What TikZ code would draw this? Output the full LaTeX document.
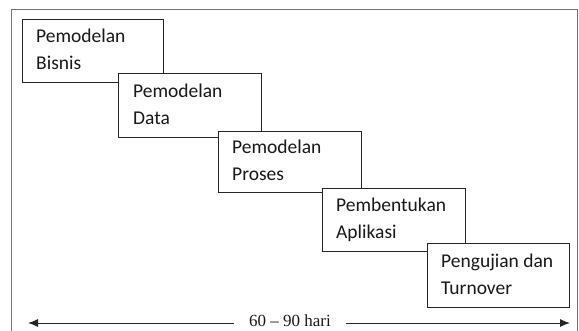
\documentclass[tikz,border=0pt]{standalone}
\usepackage{fontspec}
\setmainfont{Carlito}
\newfontfamily\serifnum{Liberation Serif}
\usetikzlibrary{arrows.meta}
\tikzset{
  stagebox/.style={draw=black!85, line width=1.1pt, fill=white, rectangle, inner sep=0pt,
    minimum width=141pt, minimum height=63pt, anchor=north west},
  stagelab/.style={inner sep=0pt, anchor=west, align=left, text=black!90,
    font=\fontsize{19.5}{27}\selectfont},
  frameline/.style={draw=black!55, line width=1pt},
  spanarrow/.style={line width=1pt, draw=black!85, -{Latex[length=10pt,width=8pt]}}
}
\begin{document}
\begin{tikzpicture}[x=1pt,y=-1pt]
\useasboundingbox (0,0) rectangle (579,330);
\clip (0,0) rectangle (579,330);
\coordinate (fa) at (11,340);
\coordinate (fb) at (11,9);
\coordinate (fc) at (577,9);
\coordinate (fd) at (577,340);
\draw[frameline] (fa) -- (fb) -- (fc) -- (fd);

\node[stagebox] (b1) at (22,19) {};
\node[stagelab] (t1) at ([xshift=14pt]b1.west) {\strut Pemodelan\\Bisnis\strut};
\node[stagebox, minimum width=143pt, minimum height=64pt] (b2) at (118,73) {};
\node[stagelab] (t2) at ([xshift=15pt]b2.west) {\strut Pemodelan\\Data\strut};
\node[stagebox, minimum width=143pt, minimum height=61pt] (b3) at (218,131) {};
\node[stagelab] (t3) at ([xshift=14pt]b3.west) {\strut Pemodelan\\Proses\strut};
\node[stagebox, minimum width=143pt, minimum height=63pt] (b4) at (322,188) {};
\node[stagelab] (t4) at ([xshift=14pt]b4.west) {\strut Pembentukan\\Aplikasi\strut};
\node[stagebox, minimum width=142pt, minimum height=64pt] (b5) at (427,243) {};
\node[stagelab] (t5) at ([xshift=14pt]b5.west) {\strut Pengujian dan\\Turnover\strut};

\node[inner ysep=0pt, inner xsep=15pt, text=black!90, font=\serifnum\fontsize{17}{20}\selectfont] (dur) at (290,320.5) {60 – 90 hari};
\coordinate (left) at (28,323);
\coordinate (right) at (570,323);
\draw[spanarrow] (dur.west |- left) -- (left);
\draw[spanarrow] (dur.east |- right) -- (right);
\end{tikzpicture}
\end{document}
